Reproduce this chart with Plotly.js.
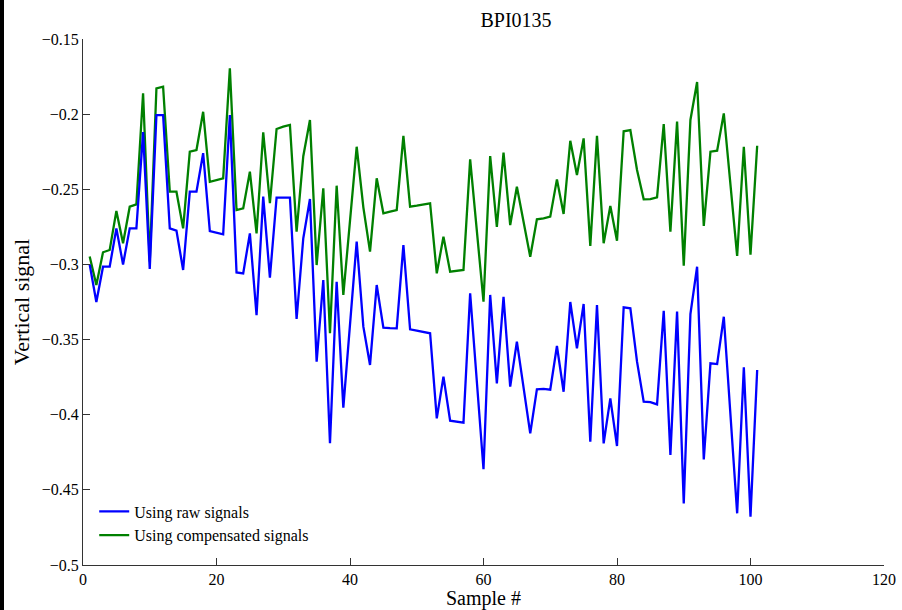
<!DOCTYPE html>
<html>
<head>
<meta charset="utf-8">
<script src="https://cdn.plot.ly/plotly-3.0.1.min.js"></script>
<style>
html,body{margin:0;padding:0;background:#fff;}
#chart{width:902px;height:610px;}
#edge{position:absolute;left:0;top:0;width:4px;height:610px;background:#000;z-index:10;}
</style>
</head>
<body>
<div id="edge"></div>
<div id="chart"></div>
<script>
const samples = [1,2,3,4,5,6,7,8,9,10,11,12,13,14,15,16,17,18,19,20,
 21,22,23,24,25,26,27,28,29,30,31,32,33,34,35,36,37,38,39,40,
 41,42,43,44,45,46,47,48,49,50,51,52,53,54,55,56,57,58,59,60,
 61,62,63,64,65,66,67,68,69,70,71,72,73,74,75,76,77,78,79,80,
 81,82,83,84,85,86,87,88,89,90,91,92,93,94,95,96,97,98,99,100,101];

const rawSignals = [-0.300,-0.325,-0.3015,-0.3015,-0.276,-0.300,-0.276,-0.276,-0.212,-0.303,
 -0.2006,-0.2006,-0.276,-0.2775,-0.3037,-0.2516,-0.2516,-0.226,-0.2778,-0.279,
 -0.280,-0.2006,-0.3053,-0.306,-0.2793,-0.3337,-0.2549,-0.3088,-0.2555,-0.2555,
 -0.2555,-0.3363,-0.2826,-0.2565,-0.3647,-0.3104,-0.419,-0.3115,-0.3953,-0.340,
 -0.2848,-0.3414,-0.3669,-0.3137,-0.3421,-0.3424,-0.3425,-0.2871,-0.3432,-0.3441,
 -0.345,-0.3458,-0.4024,-0.3747,-0.404,-0.4046,-0.4053,-0.3192,-0.3776,-0.4363,
 -0.3203,-0.3791,-0.3215,-0.3813,-0.3514,-0.3818,-0.4124,-0.3831,-0.3828,-0.3833,
 -0.3543,-0.3847,-0.325,-0.3558,-0.3263,-0.418,-0.327,-0.4191,-0.3891,-0.4208,
 -0.3285,-0.3292,-0.3647,-0.3913,-0.3916,-0.3931,-0.3308,-0.4268,-0.3314,-0.459,
 -0.333,-0.3015,-0.4297,-0.3658,-0.3663,-0.3348,-0.4002,-0.4656,-0.3685,-0.4678,-0.3702];

const compensatedSignals = [-0.2948,-0.3137,-0.2919,-0.2904,-0.2644,-0.2859,-0.2616,-0.260,-0.1861,-0.298,
 -0.1828,-0.1817,-0.2516,-0.2516,-0.276,-0.225,-0.2239,-0.1984,-0.245,-0.244,
 -0.2427,-0.1695,-0.2638,-0.2627,-0.2383,-0.2793,-0.2121,-0.2593,-0.2099,-0.2083,
 -0.2072,-0.2782,-0.228,-0.2039,-0.3004,-0.2494,-0.3458,-0.2476,-0.3203,-0.271,
 -0.2217,-0.262,-0.2915,-0.2427,-0.266,-0.2649,-0.2638,-0.2145,-0.2616,-0.2609,
 -0.260,-0.2593,-0.3059,-0.2815,-0.3048,-0.3043,-0.3037,-0.2301,-0.2773,-0.3248,
 -0.2279,-0.2751,-0.2256,-0.2738,-0.2483,-0.2716,-0.2949,-0.270,-0.2694,-0.2682,
 -0.2434,-0.2664,-0.2177,-0.2405,-0.2161,-0.2877,-0.2145,-0.2859,-0.2611,-0.2842,
 -0.2114,-0.2106,-0.2372,-0.2567,-0.2565,-0.2553,-0.2066,-0.2782,-0.205,-0.3009,
 -0.2039,-0.1786,-0.2744,-0.225,-0.2243,-0.1995,-0.2469,-0.2944,-0.2217,-0.2935,-0.221];

const seriesNames = ['Using raw signals', 'Using compensated signals'];
const xTicks = [0,20,40,60,80,100,120];
const yTicks = [-0.5,-0.45,-0.4,-0.35,-0.3,-0.25,-0.2,-0.15];
const yTickText = ['\u22120.5','\u22120.45','\u22120.4','\u22120.35','\u22120.3','\u22120.25','\u22120.2','\u22120.15'];

const serif = "'Liberation Serif', 'Times New Roman', serif";

const traces = [
  {x: samples, y: compensatedSignals, name: seriesNames[1], type: 'scatter', mode: 'lines',
   line: {color: 'rgb(0,128,0)', width: 2.3}},
  {x: samples, y: rawSignals, name: seriesNames[0], type: 'scatter', mode: 'lines',
   line: {color: 'rgb(0,0,255)', width: 2.3}}
];

const layout = {
  width: 902, height: 610,
  margin: {l: 83, r: 18, t: 39, b: 45},
  paper_bgcolor: '#fff', plot_bgcolor: '#fff',
  showlegend: true,
  title: {text: 'BPI0135', font: {family: serif, size: 20, color: '#000'},
          x: 516/902, xref: 'container', xanchor: 'center', y: 0.967, yref: 'container', yanchor: 'middle'},
  xaxis: {
    range: [0, 120], tickvals: xTicks, ticks: 'inside', ticklen: 7, tickcolor: '#333',
    showline: true, linecolor: '#333', linewidth: 1, showgrid: false, zeroline: false,
    tickfont: {family: serif, size: 16, color: '#000'},
    title: {text: 'Sample #', font: {family: serif, size: 20, color: '#000'}, standoff: 7}
  },
  yaxis: {
    range: [-0.5, -0.15], tickvals: yTicks, ticktext: yTickText, ticks: 'inside', ticklen: 7, tickcolor: '#333',
    showline: true, linecolor: '#333', linewidth: 1, showgrid: false, zeroline: false,
    tickfont: {family: serif, size: 16, color: '#000'},
    title: {text: 'Vertical signal', font: {family: serif, size: 22, color: '#000'}, standoff: 6}
  },
  legend: {
    x: 0.014, xanchor: 'left', y: 0.024, yanchor: 'bottom', traceorder: 'reversed',
    bgcolor: 'rgba(255,255,255,0)', borderwidth: 0,
    font: {family: serif, size: 16, color: '#000'}, tracegroupgap: 0
  }
};

Plotly.newPlot('chart', traces, layout, {staticPlot: true, displayModeBar: false});
</script>
</body>
</html>
